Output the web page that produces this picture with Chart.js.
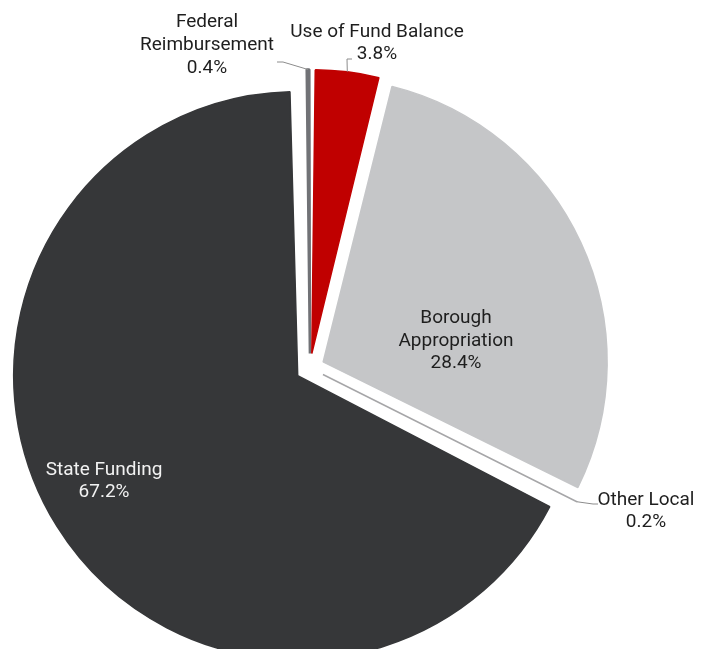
<!DOCTYPE html>
<html>
<head>
<meta charset="utf-8">
<title>Revenue Sources</title>
<script src="https://cdn.jsdelivr.net/npm/chart.js@4.4.1/dist/chart.umd.min.js"></script>
<style>
    html, body { margin: 0; padding: 0; background: #ffffff; }
    #chart-funding { display: block; }
</style>
</head>
<body>
<canvas id="chart-funding" width="710" height="649"></canvas>
<script>
// Revenue sources, clockwise from 12 o'clock
const fundingLabels = ['Federal Reimbursement', 'Use of Fund Balance', 'Borough Appropriation', 'Other Local', 'State Funding'];
const fundingShares = [0.4, 3.8, 28.4, 0.2, 67.2];
const fundingColors = ['#717276', '#c00000', '#c5c6c8', '#a6a6a8', '#363739'];
const fundingBorders = [2.5, 1.5, 1.5, 1.5, 1.5];

// how each label is split over lines
const labelLines = [
    ['Federal', 'Reimbursement'],
    ['Use of Fund Balance'],
    ['Borough', 'Appropriation'],
    ['Other Local'],
    ['State Funding']
];

const pieRadius = 284;
const explode = 58;   // chart.js draws offset / 4 => ~14.5px

// text anchor = centre x / first baseline; leader = elbow + end points
const labelPlacement = [
    { x: 207, y: 27, line: 23, color: '#1e1e1e', leader: [[283, 62], [277, 62]] },
    { x: 377, y: 37, line: 22, color: '#1e1e1e', leader: [[347, 59], [352, 59]] },
    { x: 456, y: 323, line: 22.5, color: '#1e1e1e' },
    { x: 646, y: 505, line: 22, color: '#1e1e1e', leader: [[593, 504], [598, 504]] },
    { x: 104, y: 475, line: 22, color: '#f2f2f2' }
];

// -------------------------------------------------------------------------------------------
// keep every exploded slice at the same radius (chart.js grows small/large arcs when offset)
const evenExplode = {
    id: 'evenExplode',
    afterDatasetUpdate(chart, args) {
        args.meta.data.forEach((arc) => {
            const shift = (arc.options.offset || 0) / 4;
            const fix = 1 - Math.sin(Math.min(Math.PI, arc.circumference));
            arc.outerRadius = pieRadius - shift * fix;
        });
    }
};

// -------------------------------------------------------------------------------------------
const sliceLabels = {
    id: 'sliceLabels',
    afterDatasetsDraw(chart) {
        const ctx = chart.ctx;
        const meta = chart.getDatasetMeta(0);
        const values = chart.data.datasets[0].data;
        const total = values.reduce((a, b) => a + b, 0);

        meta.data.forEach((arc, index) => {
            const place = labelPlacement[index];
            const mid = (arc.startAngle + arc.endAngle) / 2;
            const shift = (arc.options.offset || 0) / 4;

            if (place.leader) {
                const edgeX = arc.x + Math.cos(mid) * (shift + pieRadius);
                const edgeY = arc.y + Math.sin(mid) * (shift + pieRadius);
                ctx.save();
                ctx.strokeStyle = '#8c8c8c';
                ctx.lineWidth = 1;
                ctx.beginPath();
                ctx.moveTo(edgeX, edgeY);
                place.leader.forEach((p) => ctx.lineTo(p[0], p[1]));
                ctx.stroke();
                ctx.restore();
            }

            const pct = (values[index] / total * 100).toFixed(1) + '%';
            const lines = labelLines[index].concat([pct]);

            ctx.save();
            ctx.font = '19px Roboto, "Open Sans", sans-serif';
            ctx.fillStyle = place.color;
            ctx.textAlign = 'center';
            ctx.textBaseline = 'alphabetic';
            lines.forEach((text, i) => {
                ctx.fillText(text, place.x, place.y + i * place.line);
            });
            ctx.restore();
        });
    }
};

// -------------------------------------------------------------------------------------------
function drawFundingPie()
{
    const data = {
        labels: fundingLabels,
        datasets: [{
            data: fundingShares,
            backgroundColor: fundingColors,
            borderColor: fundingColors,
            borderWidth: fundingBorders,
            offset: explode,
            hoverOffset: 0
        }]
    };

    const options = {
        responsive: false,
        animation: false,
        rotation: -1.1,
        radius: pieRadius,
        clip: false,
        layout: {
            padding: { left: 0, right: 90, top: 87, bottom: 0 }
        },
        plugins: {
            legend: { display: false },
            tooltip: { enabled: false },
            title: { display: false }
        },
        events: []
    };

    new Chart('chart-funding', {
        type: 'pie',
        plugins: [evenExplode, sliceLabels],
        data: data,
        options: options
    });
}

drawFundingPie();
</script>
</body>
</html>
